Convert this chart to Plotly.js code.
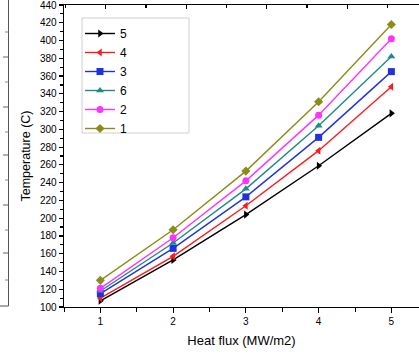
<!DOCTYPE html>
<html>
<head>
<meta charset="utf-8">
<script src="https://cdn.plot.ly/plotly-3.0.1.min.js"></script>
<style>html,body{margin:0;padding:0;background:#fff;}#chart{width:419px;height:355px;}</style>
</head>
<body>
<div id="chart"></div>
<script>
// ---- data ----
const heatFlux = [1, 2, 3, 4, 5];
const seriesNames = ['5', '4', '3', '6', '2', '1'];
const temp5 = [107, 153, 204, 259, 318];
const temp4 = [110, 157, 214, 276, 348];
const temp3 = [115, 166, 224, 291, 365];
const temp6 = [118, 172, 233, 304, 382];
const temp2 = [121, 178, 242, 316, 402];
const temp1 = [130, 187, 253, 331, 418];
const xTickVals = [1, 2, 3, 4, 5];
const yTickVals = [100,120,140,160,180,200,220,240,260,280,300,320,340,360,380,400,420,440];

const seriesValues = [temp5, temp4, temp3, temp6, temp2, temp1];
const colors = ['#000000', '#ff1a1a', '#1f32e0', '#1f8a8a', '#ff33ff', '#8c8c1a'];
const symbols = ['triangle-right', 'triangle-left', 'square', 'triangle-up', 'circle', 'diamond'];

const traces = seriesNames.map((n, i) => ({
  x: heatFlux, y: seriesValues[i], name: n, type: 'scatter', mode: 'lines+markers',
  line: {color: colors[i], width: 1.4},
  marker: {symbol: symbols[i], color: colors[i], size: 7}
}));

// pixel helpers for decorative frame pieces (cropped neighbouring chart)
const L = 64, T = 5, PW = 355, PH = 302;
const px = v => (v - L) / PW;
const py = v => 1 - (v - T) / PH;
const shapes = [];
const line = (x0, y0, x1, y1, c, w) => shapes.push({type: 'line', xref: 'paper', yref: 'paper',
  x0: px(x0), y0: py(y0), x1: px(x1), y1: py(y1), line: {color: c || '#444', width: w || 1}});
// neighbouring (cropped) chart's axis
line(8.5, -5, 8.5, 306, '#555', 1);
line(0, 306, 8.5, 306, '#555', 1);
[57, 107, 155, 205, 253].forEach(y => line(3, y, 8.5, y, '#666', 1));
[32, 82, 132, 180, 230, 280].forEach(y => line(5, y, 8.5, y, '#888', 1));
// legend box
shapes.push({type: 'rect', xref: 'paper', yref: 'paper', x0: px(82), x1: px(189), y0: py(133), y1: py(18),
  line: {color: '#d0d0d0', width: 1}, fillcolor: 'rgba(0,0,0,0)'});

const font = {family: '"Liberation Sans", Arial, sans-serif', color: '#000'};

const layout = {
  width: 419, height: 355,
  margin: {l: L, r: 0, t: T, b: 355 - T - PH},
  paper_bgcolor: '#fff', plot_bgcolor: '#fff',
  font: Object.assign({size: 10}, font),
  showlegend: true,
  legend: {x: px(80), y: py(19), xanchor: 'left', yanchor: 'top', bgcolor: 'rgba(0,0,0,0)',
    borderwidth: 0, font: Object.assign({size: 12}, font), tracegroupgap: 0, itemwidth: 30},
  xaxis: {
    range: [0.5, 0.5 + PW / 72.75], tickvals: xTickVals, ticktext: xTickVals.map(String),
    showline: true, linecolor: '#000', linewidth: 1.3, ticks: 'outside', ticklen: 5, tickwidth: 1.2, tickcolor: '#000',
    minor: {dtick: 0.5, tick0: 0.5, ticks: 'outside', ticklen: 4, tickwidth: 1, tickcolor: '#000'},
    showgrid: false, zeroline: false, mirror: false,
    tickfont: Object.assign({size: 10}, font),
    title: {text: 'Heat flux (MW/m2)', font: Object.assign({size: 13}, font), standoff: 9}
  },
  xaxis2: {
    overlaying: 'x', side: 'top', range: [0, PW], tick0: 41.7, dtick: 80.5,
    showline: true, linecolor: '#000', linewidth: 1.3, ticks: 'inside', ticklen: 4, tickcolor: '#000', tickwidth: 1.2,
    minor: {dtick: 40.25, tick0: 1.45, ticks: 'inside', ticklen: 3, tickcolor: '#000'},
    showticklabels: false, showgrid: false, zeroline: false
  },
  yaxis: {
    range: [100, 440], tickvals: yTickVals, ticktext: yTickVals.map(String), ticklabeloverflow: 'allow',
    showline: true, linecolor: '#000', linewidth: 1.3, ticks: 'outside', ticklen: 4, tickwidth: 1.2, tickcolor: '#000',
    minor: {dtick: 10, tick0: 100, ticks: 'outside', ticklen: 2.5, tickcolor: '#000'},
    showgrid: false, zeroline: false, mirror: false,
    tickfont: Object.assign({size: 10}, font),
    title: {text: 'Temperature (C)', font: Object.assign({size: 12.5}, font), standoff: 6}
  },
  shapes: shapes
};

// invisible carrier so the top mirror axis is drawn
traces.push({x: [], y: [], xaxis: 'x2', yaxis: 'y', type: 'scatter', showlegend: false, hoverinfo: 'skip'});

Plotly.newPlot('chart', traces, layout, {staticPlot: true, displayModeBar: false});
</script>
</body>
</html>
